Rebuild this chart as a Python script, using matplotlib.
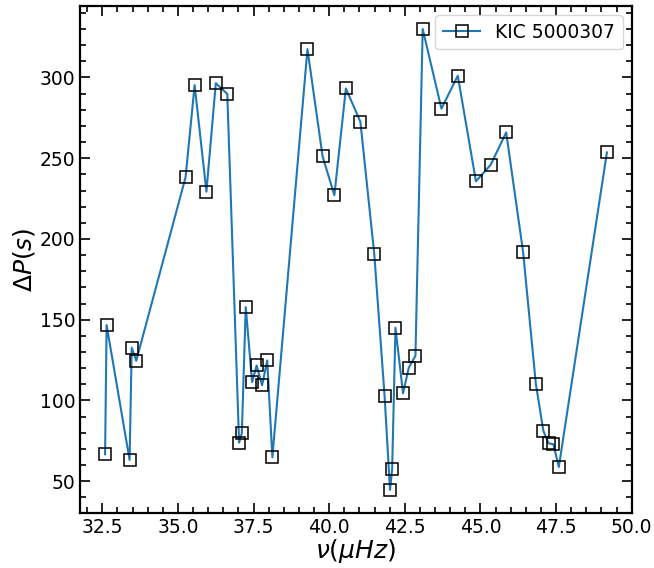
import matplotlib
matplotlib.use('Agg')
import matplotlib.pyplot as plt
from matplotlib.ticker import AutoMinorLocator

# frequency (muHz) and period spacing (s)
nu = [32.59, 32.64, 33.40, 33.47, 33.62, 35.25, 35.55, 35.94, 36.25, 36.63,
      37.02, 37.11, 37.24, 37.45, 37.60, 37.78, 37.95, 38.12, 39.28, 39.78,
      40.17, 40.55, 41.03, 41.49, 41.83, 42.01, 42.08, 42.19, 42.44, 42.63,
      42.85, 43.09, 43.71, 44.25, 44.85, 45.34, 45.85, 46.41, 46.83, 47.08,
      47.25, 47.41, 47.59, 49.18]
dP = [66.7, 146.7, 63.2, 132.7, 124.6, 238.2, 295.3, 229.3, 296.5, 289.8,
      73.9, 79.7, 157.8, 111.4, 121.7, 109.4, 124.8, 64.8, 317.6, 251.2,
      227.1, 293.2, 272.6, 190.4, 102.8, 44.6, 57.4, 145.0, 104.4, 120.3,
      127.7, 330.0, 280.7, 301.1, 235.7, 246.0, 266.0, 191.8, 110.4, 81.1,
      73.5, 72.9, 58.8, 253.6]
star = 'KIC 5000307'

fig = plt.figure(figsize=(6.54, 5.68), dpi=100)
ax = fig.add_axes([80/654, 1 - 513/568, 552/654, 507/568])

ax.plot(nu, dP, '-s', color='tab:blue', lw=1.5, markersize=9,
        markerfacecolor='none', markeredgecolor='black', markeredgewidth=1.1,
        label=star)

ax.set_xlabel(r'$\nu (\mu Hz)$', fontsize=18, labelpad=0)
ax.set_ylabel(r'$\Delta P(s)$', fontsize=18, labelpad=2)
ax.set_xticks([32.5, 35.0, 37.5, 40.0, 42.5, 45.0, 47.5, 50.0])
ax.set_yticks([50, 100, 150, 200, 250, 300])
ax.xaxis.set_minor_locator(AutoMinorLocator(5))
ax.yaxis.set_minor_locator(AutoMinorLocator(5))
ax.tick_params(which='both', direction='in', top=True, right=True, labelsize=13.5, width=1.2)
ax.tick_params(which='major', length=7)
ax.tick_params(which='minor', length=4)
for s in ax.spines.values():
    s.set_linewidth(1.6)

ax.legend(loc='upper right', fontsize=13.5)

fig.savefig('out.png', dpi=100)
